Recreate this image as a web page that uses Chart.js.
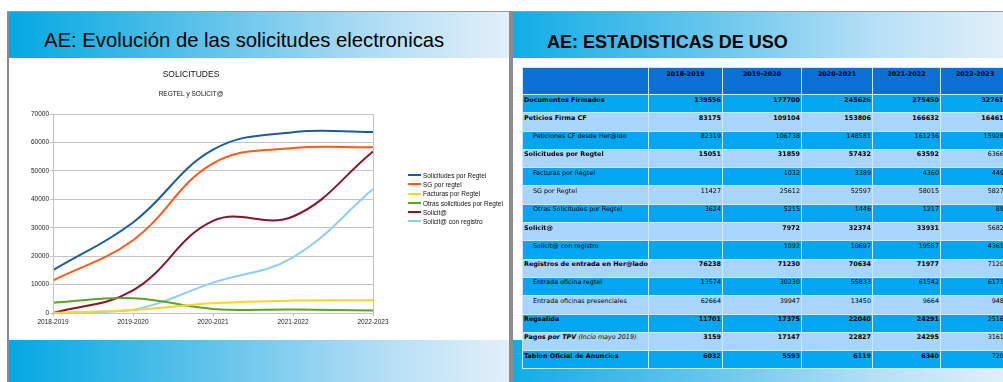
<!DOCTYPE html>
<html>
<head>
<meta charset="utf-8">
<script src="https://cdn.jsdelivr.net/npm/chart.js@4.4.1/dist/chart.umd.min.js"></script>
<style>
  body { margin: 0; width: 1003px; height: 382px; overflow: hidden; background: #fff; position: relative; font-family: "Liberation Sans", Arial, sans-serif; }
  .abs { position: absolute; }
  .hdrL, .ftrL { left: 9px; width: 500px; background: linear-gradient(to right, #03a8e2 0%, #5fc3ea 40%, #b4def5 75%, #e2f0fa 100%); }
  .hdrR, .ftrR { left: 513px; width: 490px; background: linear-gradient(to right, #12ade6 0%, #66c6ec 40%, #b8e0f6 75%, #e0eff9 100%); }
  .hdrL, .hdrR { top: 12px; height: 46px; }
  .ftrL, .ftrR { top: 340px; height: 42px; }
  #titleL { left: 44px; top: 29px; font-size: 20.3px; color: #000; white-space: nowrap; }
  #titleR { left: 547px; top: 32px; font-size: 18px; font-weight: bold; color: #000; white-space: nowrap; }
  #chart { left: 9px; top: 58px; }
  #legend { left: 408px; top: 171px; font-size: 6.5px; color: #111; }
  #legend div { height: 9.2px; line-height: 9.2px; white-space: nowrap; position: relative; }
  #legend span.ln { display: inline-block; width: 13px; height: 2px; vertical-align: middle; margin-right: 2px; position: relative; top: -1px; }
  #tbl { left: 522px; top: 67px; border-collapse: collapse; table-layout: fixed; width: 487px; font-family: "DejaVu Sans", Verdana, sans-serif; font-size: 6.4px; color: #000; }
  #tbl td, #tbl th { border: 1px solid #cfe8fb; padding: 0.5px 1px 0 1px; vertical-align: top; overflow: hidden; white-space: nowrap; }
  #tbl th { background: #0b70d4; height: 24.5px; font-size: 6.4px; text-align: center; padding-top: 1.5px; }
  #tbl tr.d td { height: 16.8px; }
  #tbl td.num { text-align: right; }
  #tbl td.sub { padding-left: 10px; }
  #tbl tr.bright { background: #03a6f1; }
  #tbl tr.light { background: #a8d5fb; }
</style>
</head>
<body>
<div class="abs" style="left:7px;top:11px;width:2px;height:371px;background:#8a8a8a"></div>
<div class="abs" style="left:7px;top:11px;width:996px;height:1px;background:#9a9a9a"></div>
<div class="abs" style="left:509px;top:11px;width:4px;height:371px;background:#8c8c8c"></div>
<div class="abs hdrL"></div>
<div class="abs ftrL"></div>
<div class="abs hdrR"></div>
<div class="abs ftrR"></div>
<div class="abs" id="titleL">AE: Evolución de las solicitudes electronicas</div>
<div class="abs" id="titleR">AE: ESTADISTICAS DE USO</div>
<canvas class="abs" id="chart" width="500" height="282"></canvas>
<div class="abs" id="legend"></div>
<table class="abs" id="tbl"></table>
<script>
// ---- chart data ----
const years = ["2018-2019", "2019-2020", "2020-2021", "2021-2022", "2022-2023"];
const solicitudesRegtel = [15051, 31859, 57432, 63592, 63663];
const sgRegtel = [11427, 25612, 52597, 58015, 58274];
const facturasRegtel = [null, 1032, 3389, 4360, 4495];
const otrasRegtel = [3624, 5215, 1446, 1217, 893];
const solicita = [null, 7972, 32374, 33931, 56826];
const solicitaRegistro = [null, 1092, 10697, 19587, 43618];

const seriesNames = ["Solicitudes por  Regtel", "SG por regtel", "Facturas por Regtel",
  "Otras solicitudes por Regtel", "Solicit@", "Solicit@ con registro"];
const seriesValues = [solicitudesRegtel, sgRegtel, facturasRegtel, otrasRegtel, solicita, solicitaRegistro];
const seriesColors = ["#1b5d9c", "#ff5a1a", "#ffd428", "#5ea22a", "#86142c", "#8ecdfb"];

// ---- table data ----
const documentosFirmados = [139556, 177700, 245626, 275450, 327615];
const peticiosFirmaCF = [83175, 109104, 153806, 166632, 164613];
const peticionesHerldo = [82319, 106738, 148581, 161236, 159284];
const registrosEntrada = [76238, 71230, 70634, 71977, 71205];
const entradaRegtel = [13574, 30230, 55833, 61542, 61713];
const entradaPresenciales = [62664, 39947, 13450, 9664, 9486];
const regsalida = [11701, 17375, 22040, 24291, 25163];
const pagosTPV = [3159, 17147, 22827, 24295, 31612];
const tablonAnuncios = [6032, 5593, 6119, 6340, 7204];

const rowLabels = ["Documentos Firmados", "Peticios Firma CF", "Peticiones CF desde Her@ldo",
  "Solicitudes por Regtel", "Facturas por Regtel", "SG por Regtel", "Otras Solicitudes por Regtel",
  "Solicit@", "Solicit@ con registro", "Registros de entrada en Her@lado", "Entrada oficina regtel",
  "Entrada oficinas presenciales", "Regsalida", "Pagos por TPV (Incio mayo 2019)", "Tablon Oficial de Anuncios"];
const rowSub = [0, 0, 1, 0, 1, 1, 1, 0, 1, 0, 1, 1, 0, 0, 0];
const rowValues = [documentosFirmados, peticiosFirmaCF, peticionesHerldo, solicitudesRegtel, facturasRegtel,
  sgRegtel, otrasRegtel, solicita, solicitaRegistro, registrosEntrada, entradaRegtel, entradaPresenciales,
  regsalida, pagosTPV, tablonAnuncios];

// build table
const colWidths = [126, 74, 79, 71, 68, 69];
const tbl = document.getElementById("tbl");
let html = "<colgroup>" + colWidths.map(w => `<col style="width:${w}px">`).join("") + "</colgroup>";
html += "<tr><th></th>" + years.map(y => `<th>${y}</th>`).join("") + "</tr>";
rowLabels.forEach((label, i) => {
  const bold = !rowSub[i];
  let lab = label;
  if (label.startsWith("Pagos")) lab = "<b>Pagos <i>por TPV</i></b> <i>(Incio mayo 2019)</i>";
  else if (bold) lab = `<b>${label}</b>`;
  html += `<tr class="d ${i % 2 ? "light" : "bright"}"><td class="${bold ? "" : "sub"}">${lab}</td>`;
  rowValues[i].forEach((v, j) => {
    const b = bold && (j < 4 || i < 2);
    const txt = v == null ? "" : v;
    html += `<td class="num">${b ? "<b>" + txt + "</b>" : txt}</td>`;
  });
  html += "</tr>";
});
tbl.innerHTML = html;

// legend
const legend = document.getElementById("legend");
legend.innerHTML = seriesNames.map((n, i) =>
  `<div><span class="ln" style="background:${seriesColors[i]}"></span>${n}</div>`).join("");

// plot frame
const frame = {
  id: "frame",
  afterDraw(chart) {
    const { ctx, chartArea: a } = chart;
    ctx.save();
    ctx.strokeStyle = "#c4c4c4";
    ctx.lineWidth = 1;
    ctx.strokeRect(Math.round(a.left) + 0.5, Math.round(a.top) + 0.5, Math.round(a.right - a.left), Math.round(a.bottom - a.top));
    ctx.restore();
  }
};

const font = { family: "'Liberation Sans', Arial, sans-serif", size: 6.5 };
new Chart(document.getElementById("chart").getContext("2d"), {
  type: "line",
  data: {
    labels: years,
    datasets: seriesNames.map((name, i) => ({
      label: name,
      data: seriesValues[i].map(v => v ?? 0),
      borderColor: seriesColors[i],
      backgroundColor: seriesColors[i],
      borderWidth: 2,
      pointRadius: 0,
      tension: 0.4,
      fill: false
    }))
  },
  options: {
    responsive: false,
    animation: false,
    devicePixelRatio: 1,
    layout: { padding: { left: 0, right: 136, top: 0, bottom: 7 } },
    plugins: {
      legend: { display: false },
      tooltip: { enabled: false },
      title: { display: true, text: "SOLICITUDES", color: "#111", font: { family: font.family, size: 8.5, weight: "normal" }, padding: { top: 12, bottom: 0 } },
      subtitle: { display: true, text: "REGTEL y SOLICIT@", color: "#111", font: { family: font.family, size: 6.5 }, padding: { top: 10, bottom: 16 } }
    },
    scales: {
      x: {
        grid: { display: true, drawOnChartArea: false, tickLength: 3, color: "#b3b3b3" },
        border: { color: "#b3b3b3" },
        ticks: { color: "#222", font, padding: 2, maxRotation: 0, autoSkip: false },
        afterFit: s => { s.height = 20; }
      },
      y: {
        min: 0, max: 70000,
        ticks: { stepSize: 10000, color: "#222", font, padding: 1, callback: v => String(v) },
        grid: { color: "#c4c4c4", tickLength: 3 },
        border: { color: "#b3b3b3" },
        afterFit: s => { s.width = 44; }
      }
    }
  },
  plugins: [frame]
});
</script>
</body>
</html>
